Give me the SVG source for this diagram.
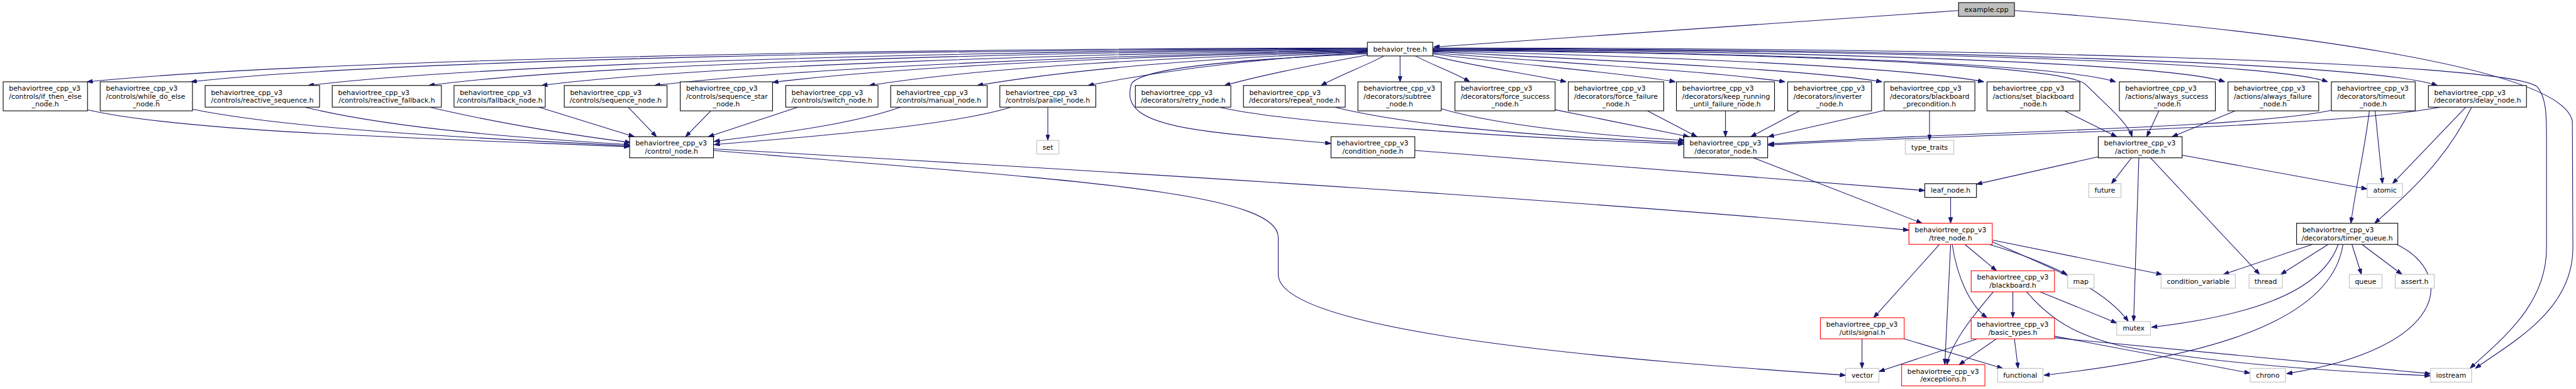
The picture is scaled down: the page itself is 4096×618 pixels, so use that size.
<svg xmlns="http://www.w3.org/2000/svg" width="4096" height="618" viewBox="0 0 4096 618">
<defs>
<marker id="a" markerWidth="11" markerHeight="8" refX="11" refY="4" orient="auto" markerUnits="userSpaceOnUse"><path d="M0,0 L11,4 L0,8 z" fill="#191970" stroke="#191970" stroke-width="1"/></marker>
<style>
.n rect{fill:#fff;stroke:#000;stroke-width:1.3}
.n.g rect{stroke:#bfbfbf}
.n.r rect{stroke:#ff0000}
.n.x rect{fill:#bfbfbf}
text{font-family:"DejaVu Sans","Liberation Sans",sans-serif;font-size:13px;fill:#000}
.m{text-anchor:middle}
#edges path{fill:none;stroke:#191970;stroke-width:1.3;marker-end:url(#a)}
</style>
</defs>
<rect width="4096" height="618" fill="#fff"/>
<g transform="scale(0.8385)">
<g id="edges">
<path d="M3714,20 L2719,89"/>
<path d="M3820,20 C4300,55 4860,125 4878,230 L4879,470 C4879,590 4760,650 4694,698"/>
<path d="M2593,91 C1700,92 600,112 165,155"/>
<path d="M2593,92 C1800,94 750,112 362,155"/>
<path d="M2593,93 C1900,96 950,118 584,162"/>
<path d="M2593,94 C2000,98 1120,120 813,162"/>
<path d="M2593,95 C2100,100 1320,124 1027,162"/>
<path d="M2593,96 C2150,102 1520,128 1241,162"/>
<path d="M2593,97 C2200,104 1720,125 1465,156"/>
<path d="M2593,98 C2250,106 1860,128 1648,162"/>
<path d="M2593,99 C2300,108 2030,132 1853,162"/>
<path d="M2593,100 C2380,110 2200,135 2063,162"/>
<path d="M2593,104 C2500,122 2400,140 2322,162"/>
<path d="M2624,106 C2590,125 2545,140 2505,162"/>
<path d="M2593,102 C2400,110 2160,125 2145,160 C2135,200 2150,232 2300,250 C2400,262 2470,266 2524,272"/>
<path d="M2655,106 L2655,155"/>
<path d="M2684,106 C2720,125 2760,138 2787,155"/>
<path d="M2714,105 C2790,125 2900,140 2970,155"/>
<path d="M2717,102 C2850,120 3080,138 3177,155"/>
<path d="M2717,100 C2900,115 3250,135 3385,155"/>
<path d="M2717,98 C2950,110 3420,130 3569,155"/>
<path d="M2717,97 C3100,105 3600,125 3762,155"/>
<path d="M2717,96 C3400,100 3920,125 3955,160 S4035,232 4043,259"/>
<path d="M2717,95 C3300,98 3900,120 4012,155"/>
<path d="M2717,94 C3400,96 4100,118 4219,155"/>
<path d="M2717,93 C3500,94 4300,115 4414,155"/>
<path d="M2717,92 C3600,92 4500,118 4622,162"/>
<path d="M2717,91 C3700,90 4760,115 4812,165 C4828,185 4829,215 4829,260 L4829,470 C4829,580 4740,645 4684,698"/>
<path d="M166,208 C350,250 800,262 1194,278"/>
<path d="M365,207 C550,245 900,262 1194,276"/>
<path d="M578,203 C750,245 1000,262 1194,274"/>
<path d="M815,203 C950,235 1100,258 1196,270"/>
<path d="M1022,203 L1203,259"/>
<path d="M1191,203 L1245,259"/>
<path d="M1348,210 L1300,259"/>
<path d="M1513,203 L1343,259"/>
<path d="M1708,203 C1600,240 1450,255 1354,268"/>
<path d="M1917,203 C1800,240 1500,262 1354,274"/>
<path d="M1987,203 L1987,266"/>
<path d="M1353,282 C2200,330 3000,380 3620,436"/>
<path d="M1353,285 C2000,340 2424,360 2424,450 L2424,520 C2424,640 3200,690 3500,711"/>
<path d="M2683,285 L3650,361"/>
<path d="M2312,203 C2450,235 2900,262 3193,273"/>
<path d="M2531,203 C2700,245 3000,262 3193,270"/>
<path d="M2733,206 C2850,240 3050,258 3195,266"/>
<path d="M2949,208 L3203,259"/>
<path d="M3124,210 L3218,259"/>
<path d="M3272,210 L3272,259"/>
<path d="M3413,210 L3320,259"/>
<path d="M3578,208 L3353,259"/>
<path d="M4421,209 C4250,245 3700,250 3353,273"/>
<path d="M4628,203 C4400,245 3700,254 3353,275"/>
<path d="M3659,210 L3659,266"/>
<path d="M3325,299 L3645,423"/>
<path d="M3915,210 L4014,259"/>
<path d="M4094,210 L4071,259"/>
<path d="M4239,210 L4119,259"/>
<path d="M4504,210 L4518,348"/>
<path d="M4493,210 C4485,280 4468,350 4458,423"/>
<path d="M4676,203 L4537,348"/>
<path d="M4687,203 C4640,300 4570,365 4503,423"/>
<path d="M3979,297 L3748,349"/>
<path d="M4042,299 L4004,348"/>
<path d="M4056,299 L4046,609"/>
<path d="M4078,299 L4285,520"/>
<path d="M4138,294 L4489,358"/>
<path d="M3699,374 L3699,423"/>
<path d="M3678,463 L3553,602"/>
<path d="M3699,463 L3688,691"/>
<path d="M3702,463 C3712,530 3738,580 3768,602"/>
<path d="M3726,463 L3786,513"/>
<path d="M3772,463 C3830,480 3880,500 3920,520"/>
<path d="M3779,455 L4100,520"/>
<path d="M3778,458 C3880,505 3985,540 4036,609"/>
<path d="M3817,553 L3817,602"/>
<path d="M3780,553 C3740,600 3700,650 3692,691"/>
<path d="M3869,553 L4014,612"/>
<path d="M3843,553 C3900,620 3960,640 4020,655 C4200,690 4450,705 4609,712"/>
<path d="M3750,642 L3563,704"/>
<path d="M3786,642 L3715,691"/>
<path d="M3820,642 L3827,698"/>
<path d="M3896,637 L4267,707"/>
<path d="M3896,640 L4609,708"/>
<path d="M3531,642 L3531,698"/>
<path d="M3611,642 L3798,698"/>
<path d="M4385,463 L4216,520"/>
<path d="M4415,463 L4325,520"/>
<path d="M4460,463 L4478,520"/>
<path d="M4479,463 L4555,520"/>
<path d="M4434,463 C4400,560 4250,600 4080,620"/>
<path d="M4443,463 C4420,620 4150,680 3876,711"/>
<path d="M4545,463 C4660,520 4640,660 4336,708"/>
</g>

<g id="n_example" class="n x"><rect x="3714" y="5" width="106" height="26"/><text class="m" x="3767" y="22.5">example.cpp</text></g>
<g id="n_bt" class="n"><rect x="2593" y="80" width="124" height="26"/><text class="m" x="2655" y="97.5">behavior_tree.h</text></g>

<g id="n_if_then_else" class="n"><rect x="6" y="155" width="160" height="55"/><text x="17" y="172">behaviortree_cpp_v3</text><text x="17" y="187">/controls/if_then_else</text><text class="m" x="86" y="202">_node.h</text></g>
<g id="n_while_do_else" class="n"><rect x="190" y="155" width="175" height="55"/><text x="201" y="172">behaviortree_cpp_v3</text><text x="201" y="187">/controls/while_do_else</text><text class="m" x="277.5" y="202">_node.h</text></g>
<g id="n_reactive_sequence" class="n"><rect x="389" y="162" width="217" height="41"/><text x="400" y="179.5">behaviortree_cpp_v3</text><text class="m" x="497.5" y="194.5">/controls/reactive_sequence.h</text></g>
<g id="n_reactive_fallback" class="n"><rect x="630" y="162" width="207" height="41"/><text x="641" y="179.5">behaviortree_cpp_v3</text><text class="m" x="733.5" y="194.5">/controls/reactive_fallback.h</text></g>
<g id="n_fallback_node" class="n"><rect x="861" y="162" width="173" height="41"/><text x="872" y="179.5">behaviortree_cpp_v3</text><text class="m" x="947.5" y="194.5">/controls/fallback_node.h</text></g>
<g id="n_sequence_node" class="n"><rect x="1070" y="162" width="195" height="41"/><text x="1081" y="179.5">behaviortree_cpp_v3</text><text class="m" x="1167.5" y="194.5">/controls/sequence_node.h</text></g>
<g id="n_sequence_star" class="n"><rect x="1290" y="155" width="175" height="55"/><text x="1301" y="172">behaviortree_cpp_v3</text><text x="1301" y="187">/controls/sequence_star</text><text class="m" x="1377.5" y="202">_node.h</text></g>
<g id="n_switch_node" class="n"><rect x="1490" y="162" width="175" height="41"/><text x="1501" y="179.5">behaviortree_cpp_v3</text><text class="m" x="1577.5" y="194.5">/controls/switch_node.h</text></g>
<g id="n_manual_node" class="n"><rect x="1689" y="162" width="183" height="41"/><text x="1700" y="179.5">behaviortree_cpp_v3</text><text class="m" x="1780.5" y="194.5">/controls/manual_node.h</text></g>
<g id="n_parallel_node" class="n"><rect x="1896" y="162" width="182" height="41"/><text x="1907" y="179.5">behaviortree_cpp_v3</text><text class="m" x="1987" y="194.5">/controls/parallel_node.h</text></g>
<g id="n_retry_node" class="n"><rect x="2153" y="162" width="181" height="41"/><text x="2164" y="179.5">behaviortree_cpp_v3</text><text class="m" x="2243.5" y="194.5">/decorators/retry_node.h</text></g>
<g id="n_repeat_node" class="n"><rect x="2358" y="162" width="193" height="41"/><text x="2369" y="179.5">behaviortree_cpp_v3</text><text class="m" x="2454.5" y="194.5">/decorators/repeat_node.h</text></g>
<g id="n_subtree" class="n"><rect x="2575" y="155" width="158" height="55"/><text x="2586" y="172">behaviortree_cpp_v3</text><text x="2586" y="187">/decorators/subtree</text><text class="m" x="2654" y="202">_node.h</text></g>
<g id="n_force_success" class="n"><rect x="2759" y="155" width="190" height="55"/><text x="2770" y="172">behaviortree_cpp_v3</text><text x="2770" y="187">/decorators/force_success</text><text class="m" x="2854" y="202">_node.h</text></g>
<g id="n_force_failure" class="n"><rect x="2974" y="155" width="181" height="55"/><text x="2985" y="172">behaviortree_cpp_v3</text><text x="2985" y="187">/decorators/force_failure</text><text class="m" x="3064.5" y="202">_node.h</text></g>
<g id="n_keep_running" class="n"><rect x="3179" y="155" width="186" height="55"/><text x="3190" y="172">behaviortree_cpp_v3</text><text x="3190" y="187">/decorators/keep_running</text><text class="m" x="3272" y="202">_until_failure_node.h</text></g>
<g id="n_inverter" class="n"><rect x="3390" y="155" width="159" height="55"/><text x="3401" y="172">behaviortree_cpp_v3</text><text x="3401" y="187">/decorators/inverter</text><text class="m" x="3469.5" y="202">_node.h</text></g>
<g id="n_bb_precondition" class="n"><rect x="3573" y="155" width="172" height="55"/><text x="3584" y="172">behaviortree_cpp_v3</text><text x="3584" y="187">/decorators/blackboard</text><text class="m" x="3659" y="202">_precondition.h</text></g>
<g id="n_set_blackboard" class="n"><rect x="3768" y="155" width="176" height="55"/><text x="3779" y="172">behaviortree_cpp_v3</text><text x="3779" y="187">/actions/set_blackboard</text><text class="m" x="3856" y="202">_node.h</text></g>
<g id="n_always_success" class="n"><rect x="4019" y="155" width="182" height="55"/><text x="4030" y="172">behaviortree_cpp_v3</text><text x="4030" y="187">/actions/always_success</text><text class="m" x="4110" y="202">_node.h</text></g>
<g id="n_always_failure" class="n"><rect x="4225" y="155" width="172" height="55"/><text x="4236" y="172">behaviortree_cpp_v3</text><text x="4236" y="187">/actions/always_failure</text><text class="m" x="4311" y="202">_node.h</text></g>
<g id="n_timeout" class="n"><rect x="4421" y="155" width="159" height="55"/><text x="4432" y="172">behaviortree_cpp_v3</text><text x="4432" y="187">/decorators/timeout</text><text class="m" x="4500.5" y="202">_node.h</text></g>
<g id="n_delay_node" class="n"><rect x="4605" y="162" width="186" height="41"/><text x="4616" y="179.5">behaviortree_cpp_v3</text><text class="m" x="4698" y="194.5">/decorators/delay_node.h</text></g>

<g id="n_control_node" class="n"><rect x="1194" y="259" width="159" height="40"/><text x="1205" y="276">behaviortree_cpp_v3</text><text class="m" x="1273.5" y="291">/control_node.h</text></g>
<g id="n_set" class="n g"><rect x="1966" y="266" width="42" height="26"/><text class="m" x="1987" y="283.5">set</text></g>
<g id="n_condition_node" class="n"><rect x="2524" y="259" width="159" height="40"/><text x="2535" y="276">behaviortree_cpp_v3</text><text class="m" x="2603.5" y="291">/condition_node.h</text></g>
<g id="n_decorator_node" class="n"><rect x="3193" y="259" width="159" height="40"/><text x="3204" y="276">behaviortree_cpp_v3</text><text class="m" x="3272.5" y="291">/decorator_node.h</text></g>
<g id="n_type_traits" class="n g"><rect x="3613" y="266" width="92" height="26"/><text class="m" x="3659" y="283.5">type_traits</text></g>
<g id="n_action_node" class="n"><rect x="3979" y="259" width="159" height="40"/><text x="3990" y="276">behaviortree_cpp_v3</text><text class="m" x="4058.5" y="291">/action_node.h</text></g>

<g id="n_leaf_node" class="n"><rect x="3650" y="348" width="98" height="26"/><text class="m" x="3699" y="365.5">leaf_node.h</text></g>
<g id="n_future" class="n g"><rect x="3961" y="348" width="61" height="26"/><text class="m" x="3991.5" y="365.5">future</text></g>
<g id="n_atomic" class="n g"><rect x="4489" y="348" width="67" height="26"/><text class="m" x="4522.5" y="365.5">atomic</text></g>

<g id="n_tree_node" class="n r"><rect x="3620" y="423" width="158" height="40"/><text x="3631" y="440">behaviortree_cpp_v3</text><text class="m" x="3699" y="455">/tree_node.h</text></g>
<g id="n_timer_queue" class="n"><rect x="4355" y="423" width="192" height="40"/><text x="4366" y="440">behaviortree_cpp_v3</text><text class="m" x="4451" y="455">/decorators/timer_queue.h</text></g>

<g id="n_blackboard" class="n r"><rect x="3738" y="513" width="158" height="40"/><text x="3749" y="530">behaviortree_cpp_v3</text><text class="m" x="3817" y="545">/blackboard.h</text></g>
<g id="n_map" class="n g"><rect x="3921" y="520" width="50" height="26"/><text class="m" x="3946" y="537.5">map</text></g>
<g id="n_condition_variable" class="n g"><rect x="4098" y="520" width="141" height="26"/><text class="m" x="4168.5" y="537.5">condition_variable</text></g>
<g id="n_thread" class="n g"><rect x="4265" y="520" width="63" height="26"/><text class="m" x="4296.5" y="537.5">thread</text></g>
<g id="n_queue" class="n g"><rect x="4455" y="520" width="62" height="26"/><text class="m" x="4486" y="537.5">queue</text></g>
<g id="n_assert" class="n g"><rect x="4542" y="520" width="74" height="26"/><text class="m" x="4579" y="537.5">assert.h</text></g>

<g id="n_signal" class="n r"><rect x="3452" y="602" width="159" height="40"/><text x="3463" y="619">behaviortree_cpp_v3</text><text class="m" x="3531.5" y="634">/utils/signal.h</text></g>
<g id="n_basic_types" class="n r"><rect x="3738" y="602" width="158" height="40"/><text x="3749" y="619">behaviortree_cpp_v3</text><text class="m" x="3817" y="634">/basic_types.h</text></g>
<g id="n_mutex" class="n g"><rect x="4014" y="609" width="64" height="26"/><text class="m" x="4046" y="626.5">mutex</text></g>

<g id="n_vector" class="n g"><rect x="3500" y="698" width="63" height="26"/><text class="m" x="3531.5" y="715.5">vector</text></g>
<g id="n_exceptions" class="n r"><rect x="3606" y="691" width="158" height="40"/><text x="3617" y="708">behaviortree_cpp_v3</text><text class="m" x="3685" y="723">/exceptions.h</text></g>
<g id="n_functional" class="n g"><rect x="3788" y="698" width="86" height="26"/><text class="m" x="3831" y="715.5">functional</text></g>
<g id="n_chrono" class="n g"><rect x="4267" y="698" width="67" height="26"/><text class="m" x="4300.5" y="715.5">chrono</text></g>
<g id="n_iostream" class="n g"><rect x="4609" y="698" width="78" height="26"/><text class="m" x="4648" y="715.5">iostream</text></g>
</g>
</svg>
